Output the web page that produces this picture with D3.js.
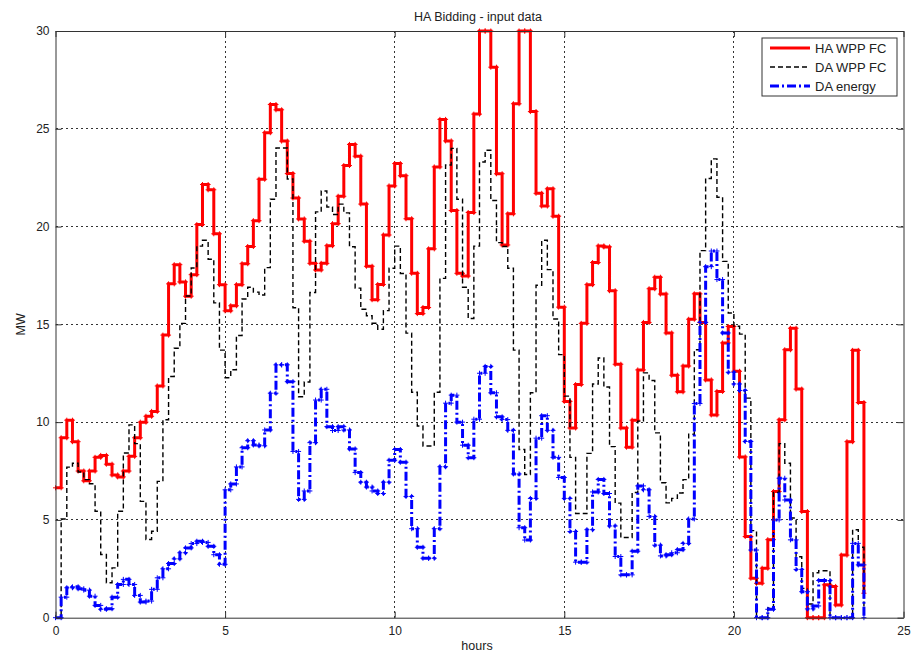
<!DOCTYPE html>
<html>
<head>
<meta charset="utf-8">
<script src="https://cdn.jsdelivr.net/npm/d3@7"></script>
<style>
  body { margin: 0; background: #fff; }
  text { font-family: "Liberation Sans", Arial, Helvetica, sans-serif; fill: #222; }
</style>
</head>
<body>
<svg id="chart" width="911" height="654"></svg>
<script>
// 10-minute resolution forecasts over one day (MW)
const haWppFc = [
  6.64, 9.2, 10.1, 9.0, 7.5, 7.0, 7.5, 8.2, 8.3, 7.85,
  7.3, 7.2, 7.5, 8.25, 9.2, 10.0, 10.3, 10.55, 11.85, 14.45,
  17.07, 18.05, 17.17, 16.44, 17.54, 20.1, 22.15, 21.88, 19.63, 17.03,
  15.69, 15.95, 17.03, 18.1, 18.98, 20.3, 22.42, 24.8, 26.24, 25.97,
  24.37, 22.71, 21.46, 20.39, 19.25, 18.12, 17.78, 18.12, 19.02, 20.15,
  21.55, 23.12, 24.2, 23.6, 21.15, 17.97, 16.26, 17.04, 19.57, 22.08,
  23.22, 22.6, 20.4, 17.61, 15.55, 15.86, 18.86, 23.05, 25.48, 24.38,
  20.82, 17.61, 17.47, 20.72, 25.75, 30, 30, 28.15, 22.7, 19.06,
  20.65, 26.28, 30, 30, 25.88, 21.7, 21.05, 21.93, 20.53, 15.88,
  11.06, 9.7, 11.92, 15.05, 17.03, 18.16, 19.01, 18.96, 16.72, 12.96,
  9.7, 8.72, 10.1, 12.67, 15.1, 16.82, 17.41, 16.55, 14.56, 12.4,
  11.55, 12.87, 15.26, 16.56, 15.1, 12.16, 10.37, 11.57, 14.05, 14.89,
  12.6, 8.22, 4.15, 2.02, 1.76, 2.53, 3.99, 6.45, 10.12, 13.7,
  14.8, 11.69, 5.43, 0, 0, 0, 1.68, 1.6, 0.65, 3.2,
  9.0, 13.67, 11.0, 1.25
];
const daWppFc = [
  0, 5.05, 7.7, 7.9, 7.45, 7.06, 6.85, 5.44, 3.23, 1.79,
  2.55, 5.44, 8.42, 9.86, 8.9, 5.95, 4.0, 4.42, 6.97, 10.12,
  12.33, 13.78, 15.05, 16.45, 17.88, 19.0, 19.3, 18.33, 16.1, 13.68,
  12.27, 12.68, 14.43, 16.3, 16.9, 16.65, 16.5, 17.9, 21.4, 24.02,
  24.02, 22.43, 15.85, 11.3, 12.05, 16.63, 20.75, 21.82, 21.0, 20.62,
  21.15, 20.7, 18.97, 16.85, 15.77, 15.44, 15.06, 14.75, 15.7, 17.87,
  19.0, 17.6, 14.55, 11.53, 9.8, 8.78, 8.78, 11.53, 17.35, 23.15,
  24.0, 21.4, 16.9, 15.3, 19.0, 23.3, 23.9, 21.33, 19.18, 18.98,
  17.87, 13.68, 8.6, 7.32, 11.5, 17.0, 19.3, 17.8, 15.27, 13.45,
  11.33, 8.2, 5.33, 5.33, 8.4, 11.95, 13.28, 11.8, 8.75, 5.86,
  4.1, 4.1, 6.4, 10.05, 12.52, 12.13, 9.45, 6.9, 5.87, 6.1,
  6.38, 7.06, 9.38, 13.7, 18.77, 22.46, 23.46, 21.5, 18.22, 15.58,
  14.9, 14.5, 11.23, 4.45, 0, 0, 0.5, 6.4, 8.9, 7.9,
  5.1, 3.12, 1.5, 0.7, 2.3, 2.4, 2.4, 0, 0, 0,
  0, 4.5, 3.6, 0
];
const daEnergy = [
  0, 1.05, 1.53, 1.58, 1.48, 1.41, 1.1, 0.63, 0.43, 0.46,
  1.05, 1.7, 1.96, 1.7, 1.14, 0.8, 0.85, 1.45, 2.04, 2.5,
  2.77, 3.01, 3.32, 3.57, 3.79, 3.91, 3.85, 3.65, 3.22, 2.73,
  6.54, 6.84, 7.71, 8.69, 9.05, 8.83, 8.79, 9.6, 11.48, 12.93,
  12.93, 12.07, 8.5, 6.05, 6.48, 8.95, 11.13, 11.68, 9.77, 9.57,
  9.77, 9.6, 8.63, 7.42, 6.93, 6.68, 6.48, 6.35, 6.93, 8.05,
  8.6, 7.95, 6.2, 4.55, 3.6, 3.04, 3.04, 4.55, 7.72, 10.97,
  11.38, 10.0, 8.82, 8.18, 10.15, 12.5, 12.85, 11.5, 10.27, 10.13,
  9.58, 7.35, 4.6, 3.97, 6.1, 9.18, 10.33, 9.58, 8.2, 7.17,
  6.1, 4.41, 2.84, 2.84, 4.5, 6.43, 7.07, 6.35, 4.69, 3.13,
  2.19, 2.19, 3.4, 6.74, 6.54, 5.18, 3.71, 3.16, 3.22, 3.32,
  3.48, 3.8, 5.05, 10.95, 15.1, 17.95, 18.75, 17.29, 14.56, 12.55,
  11.95, 11.62, 9.01, 3.46, 0, 0, 0.43, 5.0, 7.13, 6.02,
  3.98, 2.47, 1.33, 0.45, 0.6, 1.9, 1.9, 0, 0, 0,
  0, 3.8, 2.7, 0
];

const stepHours = 1 / 6;            // one sample every 10 minutes
const xTicks = [0, 5, 10, 15, 20, 25];
const yTicks = [0, 5, 10, 15, 20, 25, 30];
const titleText = "HA Bidding - input data";
const xLabel = "hours";
const yLabel = "MW";

const series = [
  { name: "HA WPP FC", values: haWppFc, color: "#ff0000", width: 3, dash: null, marker: true },
  { name: "DA WPP FC", values: daWppFc, color: "#000000", width: 1.4, dash: "5,3", marker: false },
  { name: "DA energy", values: daEnergy, color: "#0000ff", width: 3, dash: "9,3,2,3", marker: true }
];

const svg = d3.select("#chart");
const plot = { left: 55.5, right: 903.5, top: 31, bottom: 617.7 };

const x = d3.scaleLinear().domain([0, 25]).range([plot.left, plot.right]);
const y = d3.scaleLinear().domain([0, 30]).range([plot.bottom, plot.top]);

// grid
const grid = svg.append("g").attr("stroke", "#333").attr("stroke-width", 1)
  .attr("stroke-dasharray", "2,3").attr("shape-rendering", "crispEdges");
xTicks.slice(1, -1).forEach(t => {
  grid.append("line").attr("x1", x(t)).attr("x2", x(t)).attr("y1", plot.top).attr("y2", plot.bottom);
});
yTicks.slice(1, -1).forEach(t => {
  grid.append("line").attr("x1", plot.left).attr("x2", plot.right).attr("y1", y(t)).attr("y2", y(t));
});

// series as stairs
const toPoints = vals => vals.map((v, i) => [i * stepHours, v]);
const stairs = d3.line().x(d => x(d[0])).y(d => y(d[1])).curve(d3.curveStepAfter);

series.forEach(s => {
  const pts = toPoints(s.values);
  svg.append("path")
    .attr("d", stairs(pts))
    .attr("fill", "none")
    .attr("stroke", s.color)
    .attr("stroke-width", s.width)
    .attr("stroke-linejoin", "miter")
    .attr("stroke-dasharray", s.dash);
  if (s.marker) {
    // plus markers at every stair corner
    const corners = [];
    pts.forEach((p, i) => {
      corners.push(p);
      if (i < pts.length - 1) corners.push([pts[i + 1][0], p[1]]);
    });
    const r = 2.5;
    svg.append("path")
      .attr("d", corners.map(c => {
        const cx = x(c[0]), cy = y(c[1]);
        return `M${cx - r},${cy}H${cx + r}M${cx},${cy - r}V${cy + r}`;
      }).join(""))
      .attr("stroke", s.color)
      .attr("stroke-width", 1)
      .attr("fill", "none");
  }
});

// axes box and inward ticks
const axisColor = "#333";
const xAxis = d3.axisBottom(x).tickValues(xTicks).tickSizeInner(-6).tickSizeOuter(0).tickPadding(9);
const yAxis = d3.axisLeft(y).tickValues(yTicks).tickSizeInner(-6).tickSizeOuter(0).tickPadding(6);
const gx = svg.append("g").attr("transform", `translate(0,${plot.bottom})`).call(xAxis);
const gy = svg.append("g").attr("transform", `translate(${plot.left},0)`).call(yAxis);
const gxTop = svg.append("g").attr("transform", `translate(0,${plot.top})`)
  .call(d3.axisTop(x).tickValues(xTicks).tickSizeInner(-6).tickSizeOuter(0).tickFormat(""));
const gyRight = svg.append("g").attr("transform", `translate(${plot.right},0)`)
  .call(d3.axisRight(y).tickValues(yTicks).tickSizeInner(-6).tickSizeOuter(0).tickFormat(""));
[gx, gy, gxTop, gyRight].forEach(g => {
  g.selectAll("path.domain").attr("stroke", axisColor);
  g.selectAll(".tick line").attr("stroke", axisColor);
  g.selectAll("text").attr("font-size", 12).style("fill", "#222")
    .attr("font-family", '"Liberation Sans", Arial, sans-serif');
});

// titles
svg.append("text").attr("x", 478).attr("y", 21).attr("text-anchor", "middle")
  .attr("font-size", 12.5).text(titleText);
svg.append("text").attr("x", 477).attr("y", 650).attr("text-anchor", "middle")
  .attr("font-size", 12.5).text(xLabel);
svg.append("text").attr("transform", `translate(25,${(plot.top + plot.bottom) / 2}) rotate(-90)`)
  .attr("text-anchor", "middle").attr("font-size", 12.5).text(yLabel);

// legend
const lg = svg.append("g").attr("transform", "translate(762,38)");
lg.append("rect").attr("width", 135).attr("height", 58).attr("fill", "#fff")
  .attr("stroke", "#333").attr("stroke-width", 1);
series.forEach((s, i) => {
  const ly = 10 + i * 19;
  lg.append("line").attr("x1", 8).attr("x2", 48).attr("y1", ly).attr("y2", ly)
    .attr("stroke", s.color).attr("stroke-width", s.width).attr("stroke-dasharray", s.dash);
  lg.append("text").attr("x", 53).attr("y", ly + 4.5).attr("font-size", 13).text(s.name);
});
</script>
</body>
</html>
